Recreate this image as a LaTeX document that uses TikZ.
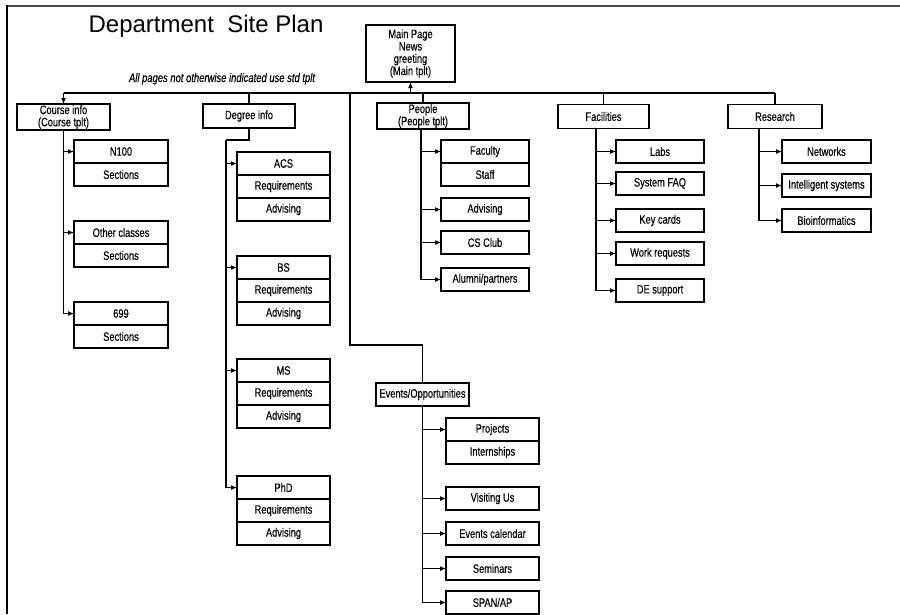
\documentclass[tikz,border=0pt]{standalone}
\usepackage{fontspec}
\setmainfont{Liberation Sans}
\newfontfamily\narrowfont{Liberation Sans}[FakeStretch=0.76, FakeBold=0.3]
\usetikzlibrary{arrows.meta, positioning}

\begin{document}
\begin{tikzpicture}[
        x=1pt, y=-1pt,
        page/.style={rectangle, draw, line width=1.4pt, minimum width=92pt, minimum height=24pt,
            inner sep=1pt, outer sep=0pt, align=center, font=\narrowfont\fontsize{12.2}{12.3}\selectfont},
        cell/.style={page, minimum height=23pt},
        link/.style={line width=1.3pt},
        arr/.style={link, -{Latex[length=6pt, width=5pt]}}
    ]
        \useasboundingbox (0,0) rectangle (900,614);

        % frame
        \draw[line width=2.5pt, black!70] (6,6) -- (900,6);
        \draw[line width=2pt] (7,5) -- (7,614);

        \node[anchor=base, font=\fontsize{24}{28}\selectfont] (title) at (206,32) {Department\ \ Site Plan};
        \node[anchor=base, font=\narrowfont\itshape\fontsize{12.4}{13}\selectfont] (note) at (222,82)
            {All pages not otherwise indicated use std tplt};

        % top level
        \node[page, minimum width=89pt, minimum height=57pt] (main) at (410.5,53.5) {Main Page\\News\\greeting\\(Main tplt)};
        \node[page, minimum width=93pt, minimum height=26pt] (course) at (63.5,117) {Course info\\(Course tplt)};
        \node[page] (degree) at (249,116) {Degree info};
        \node[page] (people) at (423,116) {People\\(People tplt)};
        \node[page, minimum width=91pt] (facil) at (603.5,116.5) {Facilities};
        \node[page, minimum width=94pt] (research) at (775,116.5) {Research};
        \node[cell, minimum width=93pt] (events) at (422.5,394.5) {Events/Opportunities};

        % classes
        \node[cell, minimum width=94pt] (n100) at (121,151.5) {N100};
        \node[cell, minimum width=94pt, below=0pt of n100] (n100sec) {Sections};
        \node[cell, minimum width=94pt] (other) at (121,232.5) {Other classes};
        \node[cell, minimum width=94pt, below=0pt of other] (othersec) {Sections};
        \node[cell, minimum width=94pt] (c699) at (121,313.5) {699};
        \node[cell, minimum width=94pt, below=0pt of c699] (c699sec) {Sections};

        % degrees
        \node[cell, minimum width=93pt] (acs) at (283.5,163.5) {ACS};
        \node[cell, minimum width=93pt, below=0pt of acs] (acsreq) {Requirements};
        \node[cell, minimum width=93pt, below=0pt of acsreq] (acsadv) {Advising};
        \node[cell, minimum width=93pt] (bs) at (283.5,267.5) {BS};
        \node[cell, minimum width=93pt, below=0pt of bs] (bsreq) {Requirements};
        \node[cell, minimum width=93pt, below=0pt of bsreq] (bsadv) {Advising};
        \node[cell, minimum width=93pt] (ms) at (283.5,370.5) {MS};
        \node[cell, minimum width=93pt, below=0pt of ms] (msreq) {Requirements};
        \node[cell, minimum width=93pt, below=0pt of msreq] (msadv) {Advising};
        \node[cell, minimum width=93pt] (phd) at (283.5,487.5) {PhD};
        \node[cell, minimum width=93pt, below=0pt of phd] (phdreq) {Requirements};
        \node[cell, minimum width=93pt, below=0pt of phdreq] (phdadv) {Advising};

        % people
        \node[cell, minimum width=88pt] (faculty) at (485,151.5) {Faculty};
        \node[cell, minimum width=88pt, below=0pt of faculty] (staff) {Staff};
        \node[cell, minimum width=88pt] (advising) at (485,209.5) {Advising};
        \node[cell, minimum width=88pt] (csclub) at (485,242.5) {CS Club};
        \node[cell, minimum width=88pt] (alumni) at (485,279.5) {Alumni/partners};

        % facilities
        \node[cell, minimum width=88pt] (labs) at (660,151.5) {Labs};
        \node[cell, minimum width=88pt] (faq) at (660,183.5) {System FAQ};
        \node[cell, minimum width=88pt] (keycards) at (660,220.5) {Key cards};
        \node[cell, minimum width=88pt] (workreq) at (660,253.5) {Work requests};
        \node[cell, minimum width=88pt] (desupport) at (660,290.5) {DE support};

        % research
        \node[cell, minimum width=89pt] (networks) at (826.5,151.5) {Networks};
        \node[cell, minimum width=89pt] (intsys) at (826.5,185.5) {Intelligent systems};
        \node[cell, minimum width=89pt] (bioinf) at (826.5,220.5) {Bioinformatics};

        % events
        \node[cell, minimum width=93pt] (projects) at (492.5,429.5) {Projects};
        \node[cell, minimum width=93pt, below=0pt of projects] (intern) {Internships};
        \node[cell, minimum width=93pt] (visiting) at (492.5,498.5) {Visiting Us};
        \node[cell, minimum width=93pt] (calendar) at (492.5,533.5) {Events calendar};
        \node[cell, minimum width=93pt] (seminars) at (492.5,568.5) {Seminars};
        \node[cell, minimum width=93pt] (spanap) at (492.5,602.5) {SPAN/AP};

        % bus under the main page
        \coordinate (bus) at (410.5,93);
        \draw[link] (course.north |- bus) -- (research.north |- bus);
        \draw[arr] (bus) -- (main.south);
        \draw[arr] (course.north |- bus) -- (course.north);
        \foreach \n in {degree, people, facil, research}
            \draw[link] (\n.north |- bus) -- (\n.north);
        \coordinate (evbend) at (350,345);
        \draw[link] (evbend |- bus) -- (evbend) -| (events.north);

        % branches
        \foreach \n in {n100, other, c699}
            \draw[arr] (course.south) |- (\n.west);
        \coordinate (degjog) at (226,140);
        \draw[link] (degree.south) |- (degjog);
        \foreach \n in {acs, bs, ms, phd}
            \draw[arr] (degjog) |- (\n.west);
        \foreach \n in {faculty, advising, csclub, alumni}
            \draw[arr] ([xshift=-2pt]people.south) |- (\n.west);
        \foreach \n in {labs, faq, keycards, workreq, desupport}
            \draw[arr] ([xshift=-7.5pt]facil.south) |- (\n.west);
        \foreach \n in {networks, intsys, bioinf}
            \draw[arr] ([xshift=-16pt]research.south) |- (\n.west);
        \foreach \n in {projects, visiting, calendar, seminars, spanap}
            \draw[arr] (events.south) |- (\n.west);
    \end{tikzpicture}
\end{document}
